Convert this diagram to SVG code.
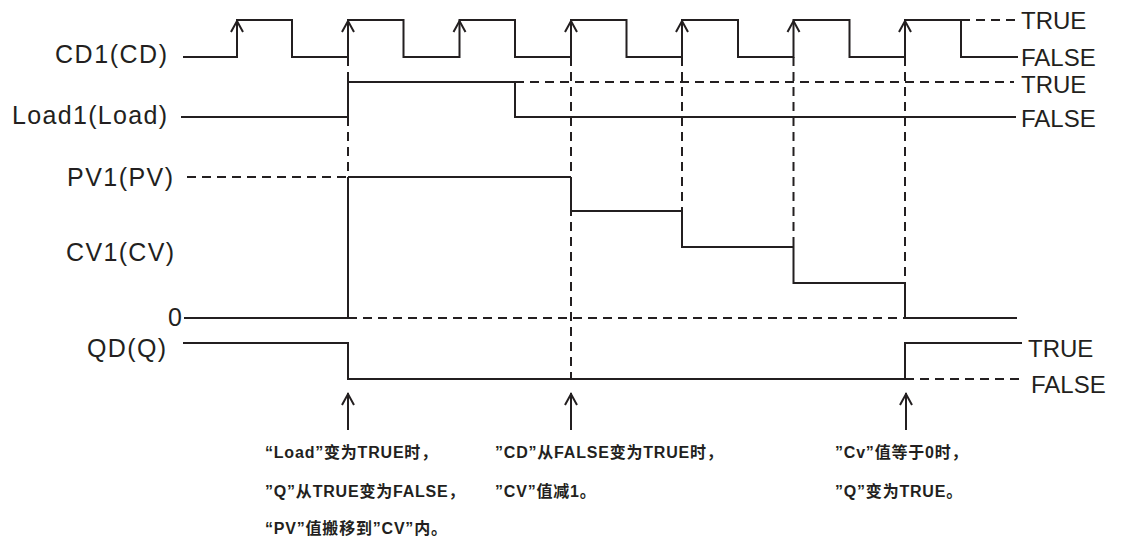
<svg xmlns="http://www.w3.org/2000/svg" width="1121" height="544" viewBox="0 0 1121 544">
<style>
.w{fill:none;stroke:#231f20;stroke-width:2}
.d{fill:none;stroke:#231f20;stroke-width:2;stroke-dasharray:9 6}
.lbl{font-family:"Liberation Sans",Arial,sans-serif;font-size:25px;fill:#231f20}
.r{font-size:24px}
.note{font-family:"Liberation Sans","Noto Sans CJK SC",sans-serif;font-size:16px;font-weight:bold;fill:#231f20;letter-spacing:0.8px}
</style>
<rect width="1121" height="544" fill="#ffffff"/>
<g id="cd1">
<text class="lbl" x="55" y="63" textLength="112">CD1(CD)</text>
<path class="w" d="M183,57 H237 V20 H292 V57 H348 V20 H403.5 V57 H459.5 V20 H515 V57 H571 V20 H626.5 V57 H682 V20 H738 V57 H793.5 V20 H849.5 V57 H905 V20 H961 V57 H1018"/>
<path class="d" d="M961,20 H1018"/>
<path class="w" d="M231,32 L237,21 L243,32 M342,32 L348,21 L354,32 M453.5,32 L459.5,21 L465.5,32 M565,32 L571,21 L577,32 M676,32 L682,21 L688,32 M787.5,32 L793.5,21 L799.5,32 M899,32 L905,21 L911,32"/>
<text class="lbl r" x="1021" y="29">TRUE</text>
<text class="lbl r" x="1021" y="66">FALSE</text>
</g>
<g id="load1">
<text class="lbl" x="12" y="124" textLength="155">Load1(Load)</text>
<path class="w" d="M181,117 H348 V82 H515 V117 H1016"/>
<path class="d" d="M515,82 H1014"/>
<text class="lbl r" x="1021" y="93">TRUE</text>
<text class="lbl r" x="1021" y="127">FALSE</text>
</g>
<g id="pv1">
<text class="lbl" x="67" y="186" textLength="106">PV1(PV)</text>
<path class="d" d="M187,177 H348"/>
<path class="w" d="M348,177 H571"/>
</g>
<g id="cv1">
<text class="lbl" x="66" y="261" textLength="108">CV1(CV)</text>
<text class="lbl" x="168" y="326">0</text>
<path class="w" d="M184,318 H348 V177 M571,177 V211 H682 V247 H793.5 V283 H905 V318 H1017"/>
<path class="d" d="M348,318 H905"/>
</g>
<g id="qd">
<text class="lbl" x="87" y="357" textLength="79">QD(Q)</text>
<path class="w" d="M183,343 H348 V379 H905 V343 H1022"/>
<path class="d" d="M905,379 H1022"/>
<text class="lbl r" x="1028" y="357">TRUE</text>
<text class="lbl r" x="1031" y="393">FALSE</text>
</g>
<g id="connectors">
<path class="d" d="M348,57 V177"/>
<path class="d" d="M571,57 V379"/>
<path class="d" d="M682,57 V211"/>
<path class="d" d="M793.5,57 V247"/>
<path class="d" d="M905,57 V283"/>
<path class="w" d="M348,393 V430 M342,405 L348,394 L354,405"/>
<path class="w" d="M571,393 V430 M565,405 L571,394 L577,405"/>
<path class="w" d="M906,393 V430 M900,405 L906,394 L912,405"/>
</g>
<g id="note1">
<text class="note" x="265" y="458">“Load”变为TRUE时，</text>
<text class="note" x="265" y="497">”Q”从TRUE变为FALSE，</text>
<text class="note" x="265" y="534">“PV”值搬移到”CV”内。</text>
</g>
<g id="note2">
<text class="note" x="495" y="458">”CD”从FALSE变为TRUE时，</text>
<text class="note" x="495" y="497">”CV”值减1。</text>
</g>
<g id="note3">
<text class="note" x="835" y="458">”Cv”值等于0时，</text>
<text class="note" x="835" y="497">”Q”变为TRUE。</text>
</g>
</svg>
